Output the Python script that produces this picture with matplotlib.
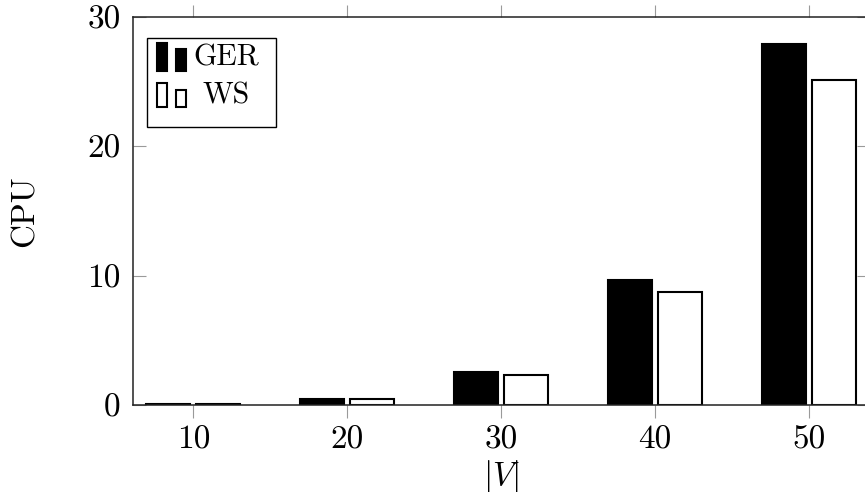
import numpy as np
import matplotlib
matplotlib.use("Agg")
import matplotlib.pyplot as plt
from matplotlib.patches import Rectangle

# CPU time per graph size |V| for the two methods
sizes = [10, 20, 30, 40, 50]
ger_cpu = [0.06, 0.48, 2.55, 9.63, 27.9]
ws_cpu = [0.05, 0.43, 2.35, 8.72, 25.1]
series_names = ["GER", "WS"]
y_ticks = [0, 10, 20, 30]

plt.rcParams["font.family"] = ["cmr10"]
plt.rcParams["mathtext.fontset"] = "cm"
plt.rcParams["axes.unicode_minus"] = False
plt.rcParams["axes.formatter.use_mathtext"] = True

W, H = 865, 492
fig = plt.figure(figsize=(W / 100, H / 100), dpi=100)
ax_l, ax_r, ax_t, ax_b = 133, 869, 16.7, 405
ax = fig.add_axes([ax_l / W, 1 - ax_b / H, (ax_r - ax_l) / W, (ax_b - ax_t) / H])

fs = 24
legend_fs = 21.5
lw = 1.5
bar_w = 2.86
offset = 1.62
x = np.array(sizes, dtype=float)

ax.bar(x - offset, ger_cpu, width=bar_w, color="black", edgecolor="black",
       linewidth=lw, zorder=3)
ax.bar(x + offset, ws_cpu, width=bar_w, color="white", edgecolor="black",
       linewidth=lw, zorder=3)

ax.set_xlim(6.08, 53.9)
ax.set_ylim(0, 30)
ax.set_xticks(sizes)
ax.set_xticklabels([str(s) for s in sizes])
ax.set_yticks(y_ticks)
ax.set_yticklabels([str(t) for t in y_ticks])

ax.tick_params(axis="x", direction="out", length=9, width=0.8, color="#9a9a9a",
               top=True, bottom=True, labelsize=fs, pad=6)
ax.tick_params(axis="y", direction="in", length=9, width=0.8, color="#9a9a9a",
               left=True, right=True, labelsize=fs, pad=9)

for s in ax.spines.values():
    s.set_color("#222222")
    s.set_linewidth(1.1)
    s.set_zorder(4)

ax.set_xlabel(r"$|V|$", fontsize=fs, labelpad=2)
ax.set_ylabel("CPU", fontsize=fs)
ax.yaxis.set_label_coords((40 - ax_l) / (ax_r - ax_l), 0.5)


# Legend drawn in figure pixels (top-left origin)
def fx(px):
    return px / W


def fy(py):
    return 1 - py / H


frame = Rectangle((fx(147), fy(126.7)), fx(276) - fx(147), fy(37.7) - fy(126.7),
                  transform=fig.transFigure, facecolor="white", edgecolor="black",
                  linewidth=1.0, zorder=10)
fig.patches.append(frame)

legend_rows = [
    # (label, face colour, tall-bar top, short-bar top, bottom, text centre y)
    ("GER", "black", 43.3, 49.3, 70.7, 57.5),
    ("WS", "white", 83.3, 90.0, 106.7, 96.0),
]
for label, fc, t1, t2, bot, ty in legend_rows:
    for left, top in ((157.3, t1), (176.0, t2)):
        r = Rectangle((fx(left), fy(bot)), fx(left + 9.5) - fx(left), fy(top) - fy(bot),
                      transform=fig.transFigure, facecolor=fc, edgecolor="black",
                      linewidth=lw, zorder=11)
        fig.patches.append(r)
    fig.text(fx(226), fy(ty), label, ha="center", va="center", fontsize=legend_fs,
             zorder=12)

fig.savefig("out.png", dpi=100)
